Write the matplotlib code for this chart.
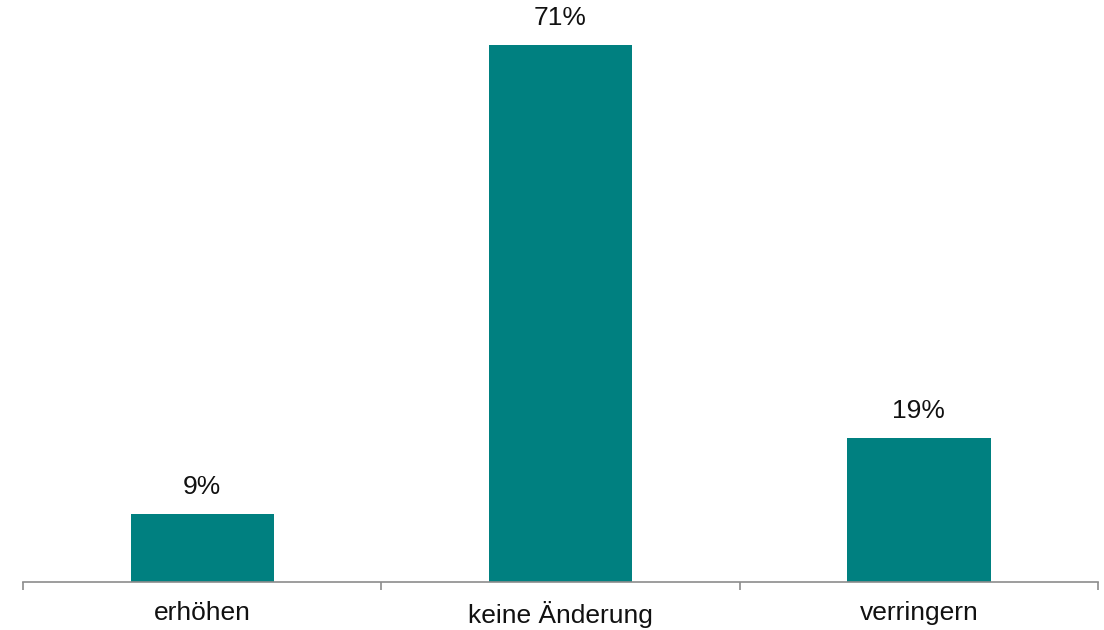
import matplotlib
matplotlib.use("Agg")
import matplotlib.pyplot as plt

categories = ["erhöhen", "keine Änderung", "verringern"]
values = [9, 71, 19]
labels = ["9%", "71%", "19%"]

plt.rcParams['font.family'] = ['Liberation Sans', 'DejaVu Sans']

W, H = 1104, 630
fig = plt.figure(figsize=(W / 100, H / 100), dpi=100)
ax = fig.add_axes([23 / W, 1 - 582 / H, (1098 - 23) / W, 582 / H])

x = list(range(len(categories)))
bars = ax.bar(x, values, width=0.4, color="#008080", zorder=2)
for xi, v, lab in zip(x, values, labels):
    ax.annotate(lab, (xi, v), xytext=(0, 11), textcoords="offset points",
                ha="center", va="bottom", fontsize=19, color="#111111")

ax.set_xlim(-0.5, 2.5)
ax.set_ylim(0, 77.0)
ax.set_yticks([])
for s in ["top", "right", "left"]:
    ax.spines[s].set_visible(False)
ax.spines["bottom"].set_color("#8c8c8c")
ax.spines["bottom"].set_linewidth(1.2)

ax.set_xticks(x)
ax.set_xticklabels(categories, fontsize=19, color="#111111")
ax.tick_params(axis="x", length=0, pad=14)
ax.set_xticks([-0.5, 0.5, 1.5, 2.5], minor=True)
ax.tick_params(axis="x", which="minor", length=6, width=1.2, color="#8c8c8c", direction="out")

fig.savefig("out.png", dpi=100)
